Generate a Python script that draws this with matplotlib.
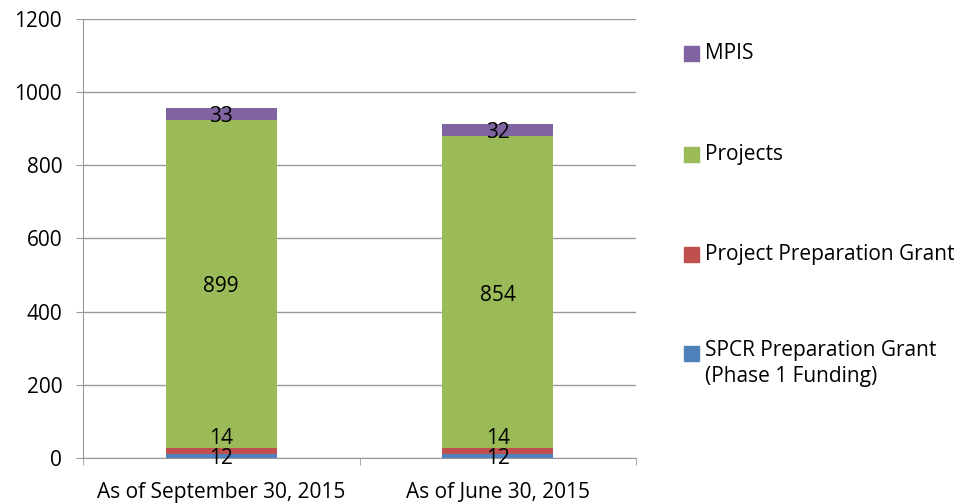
import matplotlib
matplotlib.use("Agg")
from matplotlib import pyplot as plt
from matplotlib.patches import Rectangle
import numpy as np

plt.rcParams['font.family'] = ['Open Sans', 'DejaVu Sans']

categories = ["As of September 30, 2015", "As of June 30, 2015"]
spcr = [12, 12]
ppg = [14, 14]
projects = [899, 854]
mpis = [33, 32]

series = [
    ("SPCR Preparation Grant\n(Phase 1 Funding)", spcr, "#4F81BD"),
    ("Project Preparation Grant", ppg, "#C0504D"),
    ("Projects", projects, "#9BBB59"),
    ("MPIS", mpis, "#8064A2"),
]
# small nudges (points) for labels that Excel pushed apart
label_shift = [-2, 9, -2, -2]
fs = 15
grid_col = "#999999"

fig = plt.figure(figsize=(9.71, 5.04), dpi=100)
ax = fig.add_axes([0.0855, 0.0913, 0.5695, 0.871])

x = np.arange(len(categories))
bottom = np.zeros(len(categories))
for (name, vals, col), dy in zip(series, label_shift):
    vals = np.array(vals, dtype=float)
    ax.bar(x, vals, 0.4, bottom=bottom, color=col, zorder=3)
    for xi, b, v in zip(x, bottom, vals):
        ax.annotate(str(int(v)), (xi, b + v / 2), xytext=(0, dy),
                    textcoords="offset points", ha="center", va="center",
                    fontsize=fs, color="black", zorder=4)
    bottom += vals

ax.set_xlim(-0.5, 1.5)
ax.set_ylim(0, 1200)
ax.set_yticks(range(0, 1201, 200))
ax.yaxis.grid(True, color=grid_col, linewidth=1, zorder=0)
ax.set_xticks(x)
ax.set_xticklabels(categories)
ax.set_xticks([-0.5, 0.5, 1.5], minor=True)
ax.tick_params(axis="x", which="major", length=0, pad=17, labelsize=fs)
ax.tick_params(axis="x", which="minor", length=5, color=grid_col)
ax.tick_params(axis="y", length=5, color=grid_col, labelsize=fs, pad=10)
for s in ["top", "right"]:
    ax.spines[s].set_visible(False)
for s in ["left", "bottom"]:
    ax.spines[s].set_color(grid_col)

# legend drawn by hand, Excel style
leg_y = [0.893, 0.694, 0.496, 0.298]
for (name, vals, col), yy in zip(reversed(series), leg_y):
    fig.patches.append(Rectangle((684 / 971, yy - 0.015), 15 / 971, 15 / 504,
                                 transform=fig.transFigure, color=col))
    if "\n" in name:
        fig.text(705 / 971, yy + 0.027, name, fontsize=fs, va="top", ha="left",
                 linespacing=1.3)
    else:
        fig.text(705 / 971, yy, name, fontsize=fs, va="center", ha="left")

fig.savefig("out.png", dpi=100)
